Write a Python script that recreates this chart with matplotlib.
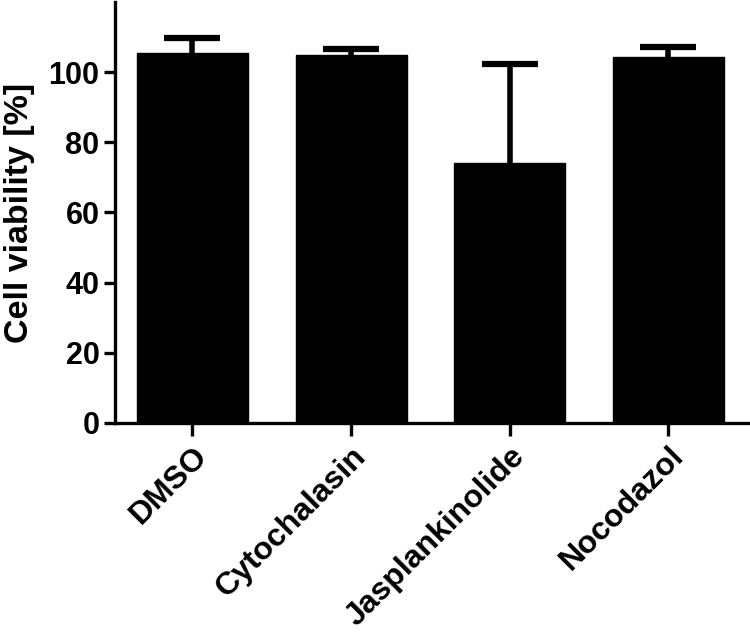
import numpy as np
import matplotlib.pyplot as plt

plt.rcParams['font.family'] = ['Liberation Sans', 'DejaVu Sans']
plt.rcParams['font.weight'] = 'bold'

# data
groups = ['DMSO', 'Cytochalasin', 'Jasplankinolide', 'Nocodazol']
viability = [105.4, 105.0, 74.0, 104.3]
err_up = [4.3, 1.5, 28.2, 2.9]

fig = plt.figure(figsize=(7.5, 6.38), dpi=100)
ax = fig.add_axes([0.153, 0.337, 0.844, 0.66])

x = np.arange(len(groups))
ax.bar(x, viability, width=0.70, color='black', edgecolor='black',
       linewidth=1, joinstyle='round')
eb = ax.errorbar(x, viability, yerr=[np.zeros(len(x)), err_up], fmt='none',
                 ecolor='black', elinewidth=4, capsize=20, capthick=4.5)
# only upper caps
eb[1][0].set_visible(False)

ax.set_xlim(-0.49, 3.5)
ax.set_ylim(0, 120)
ax.set_yticks([0, 20, 40, 60, 80, 100])
ax.set_xticks(x)
ax.set_xticklabels(groups, rotation=45, ha='right', va='top',
                   rotation_mode='anchor', fontsize=23, fontweight='bold')
ax.tick_params(axis='y', labelsize=22, width=2.4, length=8, pad=3)
ax.tick_params(axis='x', width=2.4, length=9, pad=4)
for lab in ax.get_yticklabels():
    lab.set_fontweight('bold')

ax.spines['top'].set_visible(False)
ax.spines['right'].set_visible(False)
ax.spines['left'].set_linewidth(2.4)
ax.spines['bottom'].set_linewidth(2.4)

ax.set_ylabel('Cell viability [%]', fontsize=24.5, fontweight='bold', labelpad=10)

fig.savefig('out.png', dpi=100)
